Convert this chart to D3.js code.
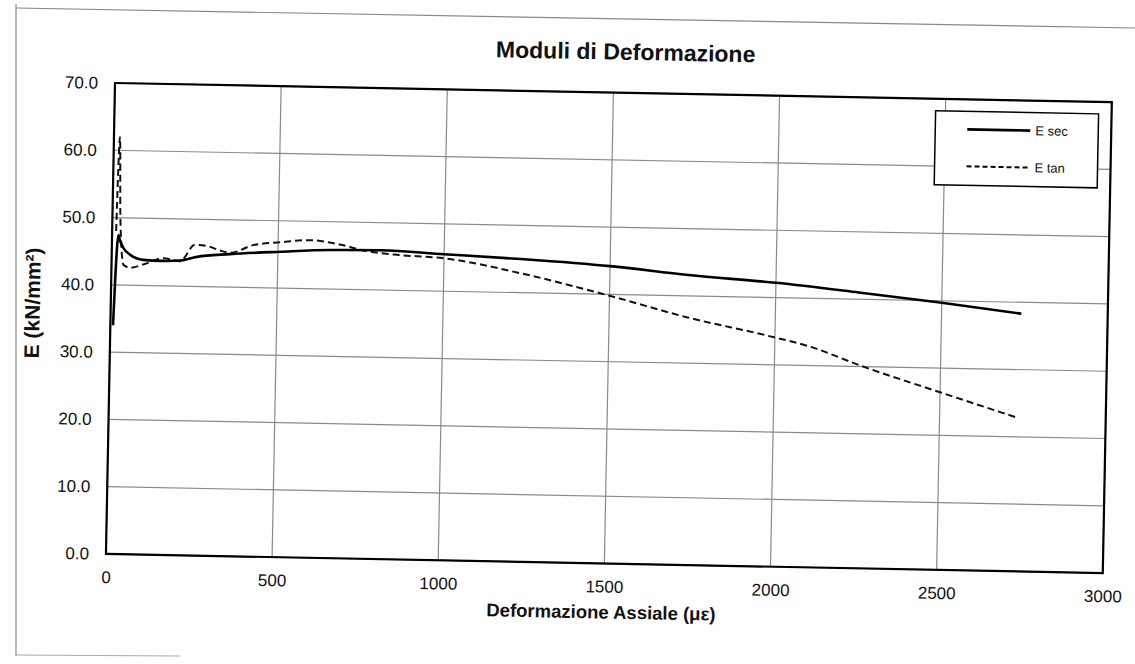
<!DOCTYPE html>
<html>
<head>
<meta charset="utf-8">
<script src="https://cdn.jsdelivr.net/npm/d3@7/dist/d3.min.js"></script>
<style>
  html, body { margin: 0; padding: 0; background: #fff; }
  svg { display: block; font-family: "Liberation Sans", Arial, sans-serif; }
</style>
</head>
<body>
<svg id="chart" width="1135" height="664"></svg>
<script>
// ---- data ----
const title = "Moduli di Deformazione";
const xLabel = "Deformazione Assiale (\u03BC\u03B5)";
const yLabel = "E (kN/mm\u00B2)";
const xTicks = [0, 500, 1000, 1500, 2000, 2500, 3000];
const yTicks = [0, 10, 20, 30, 40, 50, 60, 70];

const secStrain = [8, 12, 19, 25, 35, 56, 95, 150, 206, 256, 356, 507, 657, 808, 1000, 1230, 1500, 1736, 2000, 2250, 2500, 2740];
const secE      = [34.0, 41.0, 47.4, 46.5, 45.5, 44.5, 43.8, 43.7, 43.8, 44.4, 44.9, 45.4, 45.8, 45.9, 45.5, 45.0, 44.2, 43.1, 42.2, 41.0, 39.7, 38.3];

const tanStrain = [12, 18, 24, 36, 56, 100, 156, 206, 250, 290, 326, 356, 425, 506, 596, 690, 760, 850, 1000, 1230, 1500, 1736, 1979, 2100, 2267, 2500, 2730];
const tanE      = [48.0, 62.0, 50.0, 43.0, 42.6, 43.2, 44.1, 43.7, 46.2, 46.0, 45.4, 45.1, 46.3, 46.8, 47.2, 46.6, 45.8, 45.3, 44.9, 42.9, 39.8, 36.8, 34.3, 32.9, 30.0, 26.4, 22.9];

const seriesNames = ["E sec", "E tan"];

// ---- layout ----
const plotW = 997, plotH = 471;
const svg = d3.select("#chart");
svg.append("rect").attr("width", 1135).attr("height", 664).attr("fill", "#fff");

// sheet frame (scan edges)
const frame = svg.append("g").attr("stroke", "#888").attr("stroke-width", 1.2).attr("fill", "none");
frame.append("line").attr("x1", 16).attr("y1", 4).attr("x2", 16).attr("y2", 656);
frame.append("line").attr("x1", 16).attr("y1", 8).attr("x2", 1135).attr("y2", 28);
frame.append("line").attr("x1", 16).attr("y1", 655).attr("x2", 180).attr("y2", 656).attr("stroke", "#aaa");

// the scanned page is slightly rotated
const g = svg.append("g").attr("transform", "translate(115,83) rotate(1.1)");

const x = d3.scaleLinear().domain([0, 3000]).range([0, plotW]);
const y = d3.scaleLinear().domain([0, 70]).range([plotH, 0]);

// gridlines
g.append("g").selectAll("line").data(yTicks).join("line")
  .attr("x1", 0).attr("x2", plotW)
  .attr("y1", d => y(d)).attr("y2", d => y(d))
  .attr("stroke", "#8a8a8a").attr("stroke-width", 1.2);
g.append("g").selectAll("line").data(xTicks).join("line")
  .attr("y1", 0).attr("y2", plotH)
  .attr("x1", d => x(d)).attr("x2", d => x(d))
  .attr("stroke", "#8a8a8a").attr("stroke-width", 1.2);

// axes (labels only)
const ax = g.append("g").attr("transform", `translate(0,${plotH})`)
  .call(d3.axisBottom(x).tickValues(xTicks).tickFormat(d3.format("d")).tickSize(0).tickPadding(17));
const ay = g.append("g")
  .call(d3.axisLeft(y).tickValues(yTicks).tickFormat(d3.format(".1f")).tickSize(0).tickPadding(17));
[ax, ay].forEach(a => {
  a.select(".domain").remove();
  a.selectAll("text").attr("font-size", 17).attr("fill", "#111")
    .attr("font-family", "'Liberation Sans', Arial, sans-serif");
});

// plot border
g.append("rect").attr("width", plotW).attr("height", plotH)
  .attr("fill", "none").attr("stroke", "#000").attr("stroke-width", 2.2);

// lines
const line = d3.line().x(d => x(d[0])).y(d => y(d[1])).curve(d3.curveMonotoneX);
const secData = secStrain.map((s, i) => [s, secE[i]]);
const tanData = tanStrain.map((s, i) => [s, tanE[i]]);

g.append("path").datum(tanData).attr("d", line)
  .attr("fill", "none").attr("stroke", "#111").attr("stroke-width", 2)
  .attr("stroke-dasharray", "7,4");
g.append("path").datum(secData).attr("d", line)
  .attr("fill", "none").attr("stroke", "#000").attr("stroke-width", 2.6);

// title and axis titles
g.append("text").attr("x", 510).attr("y", -33).attr("text-anchor", "middle")
  .attr("font-size", 23).attr("font-weight", "bold").attr("fill", "#111").text(title);
g.append("text").attr("x", 496).attr("y", plotH + 55).attr("text-anchor", "middle")
  .attr("font-size", 18.5).attr("font-weight", "bold").attr("fill", "#111").text(xLabel);
g.append("text").attr("transform", `translate(-71,${plotH / 2 - 14}) rotate(-90)`)
  .attr("text-anchor", "middle")
  .attr("font-size", 21).attr("font-weight", "bold").attr("fill", "#111").text(yLabel);

// legend
const lg = g.append("g").attr("transform", "translate(821,12)");
lg.append("rect").attr("width", 163).attr("height", 74)
  .attr("fill", "#fff").attr("stroke", "#000").attr("stroke-width", 1.5);
const entries = lg.selectAll("g.e").data(seriesNames).join("g")
  .attr("class", "e").attr("transform", (d, i) => `translate(0,${18 + i * 37})`);
entries.append("line").attr("x1", 32).attr("x2", 95)
  .attr("stroke", "#000").attr("stroke-width", (d, i) => i === 0 ? 2.6 : 2)
  .attr("stroke-dasharray", (d, i) => i === 0 ? null : "5,3");
entries.append("text").attr("x", 100).attr("dy", "0.35em")
  .attr("font-size", 13).attr("fill", "#111").text(d => d);
</script>
</body>
</html>
